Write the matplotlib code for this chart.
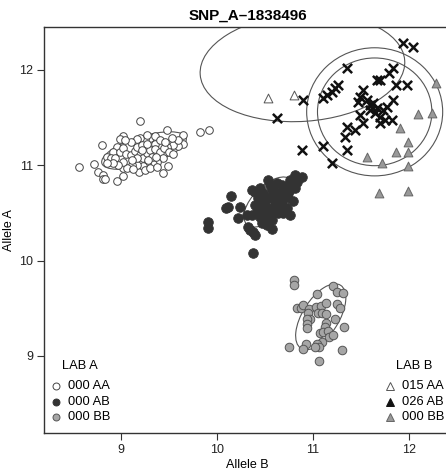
import matplotlib
matplotlib.use("Agg")
import matplotlib.pyplot as plt
from matplotlib.patches import Ellipse

plt.rcParams['font.family'] = ['Liberation Sans', 'DejaVu Sans']

# ---- Lab A genotype calls (circles) ----
aa_x = [9.20, 8.80, 8.56, 8.715, 8.753, 8.812, 8.805, 8.83, 8.958, 9.021, 9.021, 9.185,
        9.432, 9.491, 9.48, 9.64, 9.647, 9.595, 9.543, 9.473, 9.404, 9.352, 9.30, 9.247,
        9.195, 9.16, 9.352, 9.272, 9.021, 8.986, 8.952, 8.91, 8.847, 8.889, 8.934, 8.986,
        9.021, 9.049, 9.098, 9.143, 9.195, 9.23, 9.265, 9.30, 9.352, 9.404, 9.446, 9.501,
        9.543, 9.439, 9.376, 9.327, 9.272, 9.223, 9.16, 9.108, 9.056, 9.126, 9.247, 9.30,
        9.369, 9.16, 9.212, 9.265, 9.098, 9.04, 9.317, 9.212, 9.16, 9.108, 9.021, 8.969,
        8.917, 8.854, 9.404, 9.456, 9.595, 9.526, 9.362, 9.282, 9.822, 9.919]
aa_y = [11.47, 11.21, 10.98, 11.01, 10.93, 10.90, 10.853, 10.86, 10.839, 10.891, 10.968, 10.926,
        10.916, 10.996, 11.371, 11.318, 11.22, 11.206, 11.213, 11.196, 11.206, 11.22, 11.29, 11.276,
        11.29, 11.276, 11.311, 11.318, 11.311, 11.276, 11.196, 11.143, 11.091, 11.08, 11.08, 11.143,
        11.178, 11.115, 11.108, 11.15, 11.108, 11.073, 11.126, 11.161, 11.171, 11.143, 11.178, 11.136,
        11.115, 11.073, 11.038, 11.01, 11.01, 10.996, 11.003, 11.003, 10.968, 10.961, 10.951, 10.968,
        10.986, 11.196, 11.213, 11.22, 11.241, 11.266, 11.091, 11.161, 11.073, 11.056, 11.038, 11.003,
        11.021, 11.021, 11.266, 11.248, 11.266, 11.283, 11.091, 11.056, 11.346, 11.367]

ab_x = [10.43, 10.465, 10.50, 10.535, 10.604, 10.656, 10.708, 10.743, 10.778, 10.465, 10.517,
        10.569, 10.621, 10.674, 10.726, 10.413, 10.448, 10.50, 10.552, 10.639, 10.691, 10.395,
        10.361, 10.465, 10.517, 10.604, 10.621, 10.761, 10.83, 10.656, 10.569, 10.482, 10.448,
        10.674, 10.726, 10.691, 10.639, 10.378, 9.908, 9.908, 10.145, 10.089, 10.11, 10.239,
        10.221, 10.308, 10.326, 10.343, 10.395, 10.378, 10.576, 10.576, 10.761, 10.796, 10.813,
        10.882, 10.813, 10.528, 10.552, 10.569, 10.361, 10.395]
ab_y = [10.653, 10.618, 10.583, 10.653, 10.618, 10.671, 10.653, 10.706, 10.758, 10.548, 10.513,
        10.548, 10.566, 10.583, 10.548, 10.513, 10.461, 10.443, 10.478, 10.496, 10.496, 10.583,
        10.478, 10.391, 10.373, 10.723, 10.811, 10.846, 10.828, 10.618, 10.671, 10.706, 10.758,
        10.793, 10.776, 10.723, 10.688, 10.076, 10.401, 10.338, 10.678, 10.548, 10.566, 10.566,
        10.45, 10.478, 10.356, 10.321, 10.268, 10.303, 10.331, 10.426, 10.478, 10.625, 10.758,
        10.881, 10.898, 10.846, 10.793, 10.741, 10.741, 10.723]

bb_x = [10.803, 10.803, 11.214, 11.255, 11.311, 11.04, 10.838, 10.873, 10.901, 10.963, 10.953,
        10.97, 10.935, 10.935, 10.942, 11.033, 11.082, 11.137, 11.057, 11.092, 11.137, 11.255,
        11.283, 11.231, 11.137, 11.127, 11.074, 11.109, 11.162, 11.172, 11.214, 11.092, 11.047,
        11.068, 11.022, 11.325, 10.928, 10.894, 10.754, 11.301, 11.068]
bb_y = [9.796, 9.744, 9.733, 9.674, 9.663, 9.649, 9.499, 9.499, 9.534, 9.488, 9.446,
        9.383, 9.383, 9.334, 9.289, 9.509, 9.523, 9.551, 9.446, 9.453, 9.439, 9.544,
        9.499, 9.383, 9.348, 9.299, 9.243, 9.254, 9.264, 9.201, 9.219, 9.149, 9.125,
        9.09, 9.09, 9.299, 9.125, 9.069, 9.09, 9.062, 8.95]

# ---- Lab B genotype calls (triangles) and discordant calls (crosses) ----
lb_aa_x = [10.53, 10.80]
lb_aa_y = [11.71, 11.74]

lb_bb_x = [12.282, 12.10, 12.24, 11.909, 11.996, 11.996, 11.867, 11.562, 11.725, 11.996, 11.693, 11.996]
lb_bb_y = [11.86, 11.535, 11.545, 11.388, 11.241, 11.143, 11.136, 11.09, 11.02, 10.996, 10.713, 10.73]

mis_x = [11.944, 12.048, 11.359, 11.832, 11.798, 11.70, 11.672, 11.867, 11.986, 11.265, 11.231,
         11.196, 11.144, 11.109, 10.90, 10.622, 11.519, 11.491, 11.474, 11.561, 11.596, 11.631,
         11.665, 11.735, 11.77, 11.70, 11.752, 11.839, 11.822, 11.70, 11.491, 11.526, 11.439,
         11.352, 11.335, 11.352, 11.102, 11.196, 10.883, 11.596, 11.648]
mis_y = [12.287, 12.245, 12.018, 12.025, 11.972, 11.895, 11.895, 11.843, 11.843, 11.843, 11.808,
         11.773, 11.738, 11.703, 11.686, 11.493, 11.79, 11.72, 11.668, 11.686, 11.633, 11.651,
         11.598, 11.581, 11.616, 11.511, 11.476, 11.686, 11.476, 11.441, 11.528, 11.441, 11.371,
         11.406, 11.301, 11.161, 11.203, 11.028, 11.161, 11.581, 11.546]

# cluster ellipses: (center x, center y, width, height, angle in degrees)
ellipses = [
    (9.237, 11.155, 0.92, 0.30, 17),
    (10.542, 10.615, 0.66, 0.34, 45),
    (11.082, 9.411, 0.78, 0.38, 58),
    (10.891, 12.026, 2.14, 1.13, 4),
    (11.645, 11.561, 1.42, 1.344, 0),
    (11.645, 11.561, 1.194, 1.13, 0),
]

xticks = [9, 10, 11, 12]
yticks = [9, 10, 11, 12]

W, H = 446, 472
fig = plt.figure(figsize=(W / 100, H / 100), dpi=100)
ax = fig.add_axes([44 / W, 1 - 432.7 / H, (451.4 - 44) / W, (432.7 - 26.7) / H])
ax.set_xlim(8.193, 12.446)
ax.set_ylim(8.195, 12.454)

ax.scatter(aa_x, aa_y, s=30, facecolors='white', edgecolors='#444444', linewidths=0.7, zorder=3)
ax.scatter(ab_x, ab_y, s=48, facecolors='#333333', edgecolors='#333333', linewidths=0.6, zorder=3)
ax.scatter(bb_x, bb_y, s=38, facecolors='#a6a6a6', edgecolors='#555555', linewidths=0.7, zorder=3)
ax.scatter(lb_aa_x, lb_aa_y, s=40, marker='^', facecolors='white', edgecolors='#555555', linewidths=0.7, zorder=3)
ax.scatter(lb_bb_x, lb_bb_y, s=40, marker='^', facecolors='#999999', edgecolors='#666666', linewidths=0.7, zorder=3)
ax.scatter(mis_x, mis_y, s=44, marker='x', color='#111111', linewidths=1.8, zorder=4)

for cx, cy, w, h, ang in ellipses:
    ax.add_patch(Ellipse((cx, cy), w, h, angle=ang, fill=False, edgecolor='#555555', lw=0.8, zorder=2))

ax.set_xticks(xticks)
ax.set_yticks(yticks)
ax.tick_params(direction='out', length=5, width=0.8, colors='#333333', labelsize=9,
               labelcolor='#222222', pad=3)
for s in ['left', 'bottom', 'top', 'right']:
    ax.spines[s].set_linewidth(1.0)
    ax.spines[s].set_color('#333333')

ax.set_title('SNP_A\u20131838496', fontsize=11, fontweight='bold', pad=5)
ax.set_xlabel('Allele B', fontsize=9, labelpad=2)
ax.set_ylabel('Allele A', fontsize=9, labelpad=3)

# legends drawn in axes coordinates
tr = ax.transAxes
def ax_xy(px, py):
    return ((px - 44) / (451.4 - 44), (432.7 - py) / (432.7 - 26.7))

fs = 9.3
x0, y0 = ax_xy(62, 366)
ax.text(x0, y0, 'LAB A', transform=tr, fontsize=fs, va='center', ha='left')
labels_a = ['000 AA', '000 AB', '000 BB']
styles_a = [dict(marker='o', mfc='white', mec='#444444'),
            dict(marker='o', mfc='#333333', mec='#333333'),
            dict(marker='o', mfc='#a6a6a6', mec='#555555')]
rows = [386, 401.7, 417.3]
for lab, st, ry in zip(labels_a, styles_a, rows):
    mx, my = ax_xy(56, ry)
    tx, _ = ax_xy(67.5, ry)
    ax.plot([mx], [my], transform=tr, ms=5, mew=0.7, ls='none', clip_on=False, **st)
    ax.text(tx, my, lab, transform=tr, fontsize=fs, va='center', ha='left')

x1, _ = ax_xy(396.5, 366)
ax.text(x1, y0, 'LAB B', transform=tr, fontsize=fs, va='center', ha='left')
labels_b = ['015 AA', '026 AB', '000 BB']
styles_b = [dict(marker='^', mfc='white', mec='#555555'),
            dict(marker='^', mfc='#111111', mec='#111111'),
            dict(marker='^', mfc='#999999', mec='#666666')]
for lab, st, ry in zip(labels_b, styles_b, rows):
    mx, my = ax_xy(390, ry)
    tx, _ = ax_xy(401.5, ry)
    ax.plot([mx], [my], transform=tr, ms=5.5, mew=0.7, ls='none', clip_on=False, **st)
    ax.text(tx, my, lab, transform=tr, fontsize=fs, va='center', ha='left')

fig.savefig('out.png', dpi=100)
